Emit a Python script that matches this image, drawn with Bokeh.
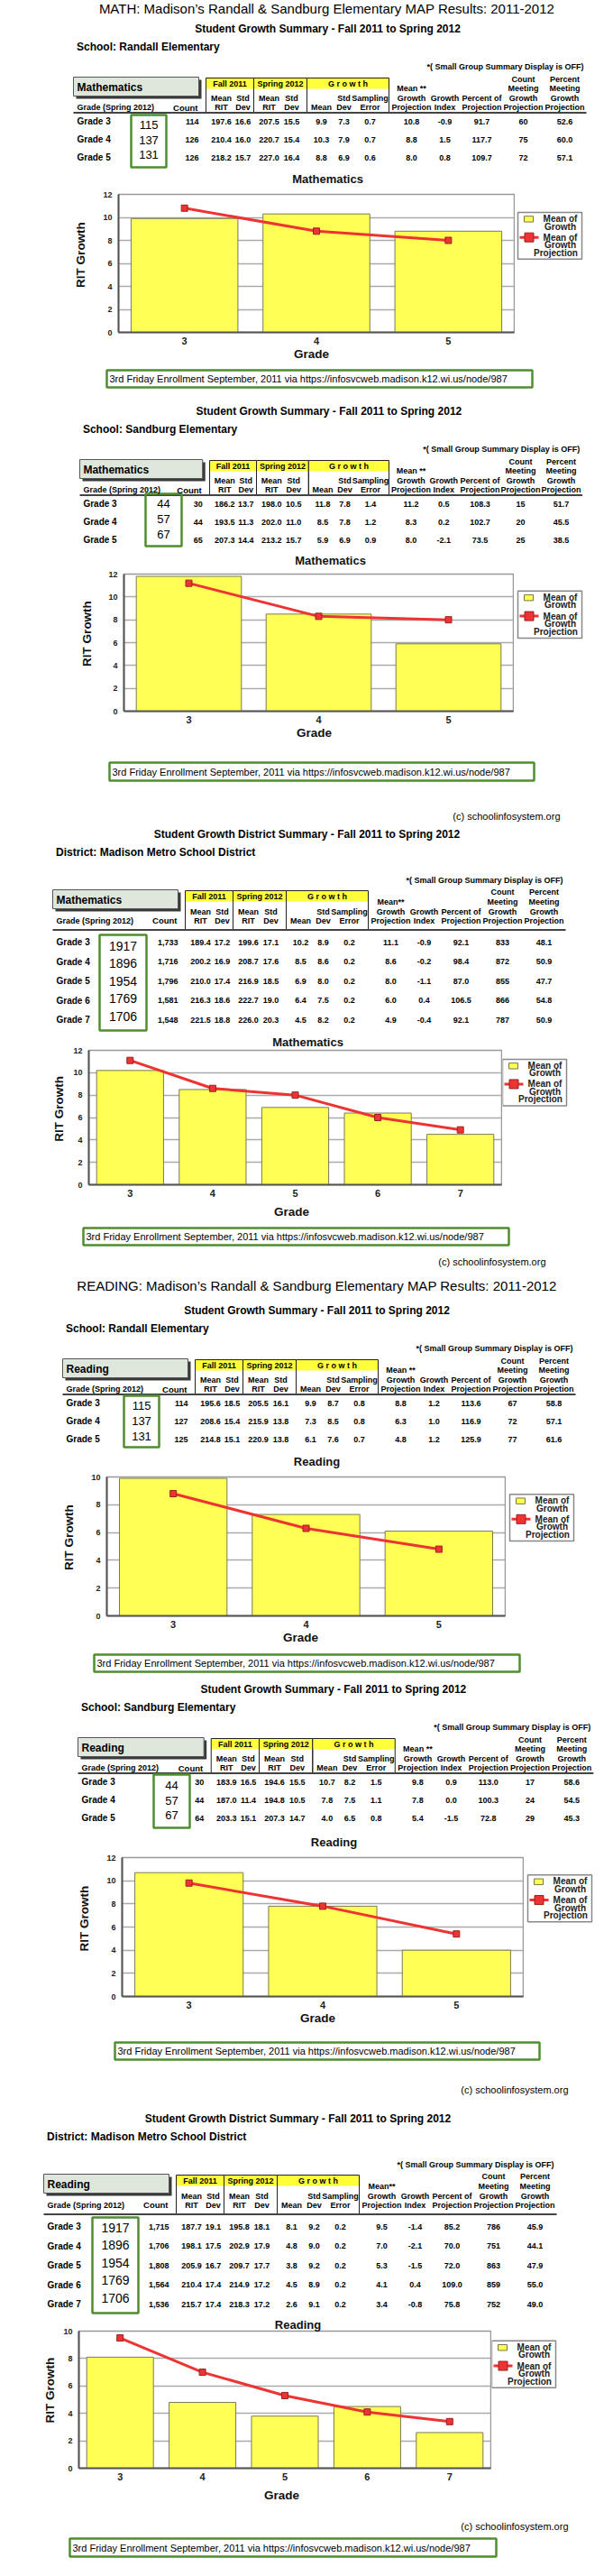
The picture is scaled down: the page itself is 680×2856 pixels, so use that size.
import math
from bokeh.plotting import figure
from bokeh.layouts import column, row
from bokeh.models import Range1d, FixedTicker, LinearAxis
from bokeh.core.properties import value
from bokeh.embed import file_html
from bokeh.resources import INLINE

FONT = "Liberation Sans"

# ---------------- data ----------------
school_grades = [3, 4, 5]
district_grades = [3, 4, 5, 6, 7]
school_grade_labels = ["Grade 3", "Grade 4", "Grade 5"]
district_grade_labels = ["Grade 3", "Grade 4", "Grade 5", "Grade 6", "Grade 7"]

randall_enrollment = [115, 137, 131]
sandburg_enrollment = [44, 57, 67]
district_enrollment = [1917, 1896, 1954, 1769, 1706]

# Count, Fall mean RIT, Fall std, Spring mean RIT, Spring std, Growth mean, Growth std,
# Sampling error, Mean growth projection, Growth index, Percent of projection,
# Count meeting projection, Percent meeting projection
math_randall = [
    ["114", "197.6", "16.6", "207.5", "15.5", "9.9", "7.3", "0.7", "10.8", "-0.9", "91.7", "60", "52.6"],
    ["126", "210.4", "16.0", "220.7", "15.4", "10.3", "7.9", "0.7", "8.8", "1.5", "117.7", "75", "60.0"],
    ["126", "218.2", "15.7", "227.0", "16.4", "8.8", "6.9", "0.6", "8.0", "0.8", "109.7", "72", "57.1"],
]
math_sandburg = [
    ["30", "186.2", "13.7", "198.0", "10.5", "11.8", "7.8", "1.4", "11.2", "0.5", "108.3", "15", "51.7"],
    ["44", "193.5", "11.3", "202.0", "11.0", "8.5", "7.8", "1.2", "8.3", "0.2", "102.7", "20", "45.5"],
    ["65", "207.3", "14.4", "213.2", "15.7", "5.9", "6.9", "0.9", "8.0", "-2.1", "73.5", "25", "38.5"],
]
math_district = [
    ["1,733", "189.4", "17.2", "199.6", "17.1", "10.2", "8.9", "0.2", "11.1", "-0.9", "92.1", "833", "48.1"],
    ["1,716", "200.2", "16.9", "208.7", "17.6", "8.5", "8.6", "0.2", "8.6", "-0.2", "98.4", "872", "50.9"],
    ["1,796", "210.0", "17.4", "216.9", "18.5", "6.9", "8.0", "0.2", "8.0", "-1.1", "87.0", "855", "47.7"],
    ["1,581", "216.3", "18.6", "222.7", "19.0", "6.4", "7.5", "0.2", "6.0", "0.4", "106.5", "866", "54.8"],
    ["1,548", "221.5", "18.8", "226.0", "20.3", "4.5", "8.2", "0.2", "4.9", "-0.4", "92.1", "787", "50.9"],
]
reading_randall = [
    ["114", "195.6", "18.5", "205.5", "16.1", "9.9", "8.7", "0.8", "8.8", "1.2", "113.6", "67", "58.8"],
    ["127", "208.6", "15.4", "215.9", "13.8", "7.3", "8.5", "0.8", "6.3", "1.0", "116.9", "72", "57.1"],
    ["125", "214.8", "15.1", "220.9", "13.8", "6.1", "7.6", "0.7", "4.8", "1.2", "125.9", "77", "61.6"],
]
reading_sandburg = [
    ["30", "183.9", "16.5", "194.6", "15.5", "10.7", "8.2", "1.5", "9.8", "0.9", "113.0", "17", "58.6"],
    ["44", "187.0", "11.4", "194.8", "10.5", "7.8", "7.5", "1.1", "7.8", "0.0", "100.3", "24", "54.5"],
    ["64", "203.3", "15.1", "207.3", "14.7", "4.0", "6.5", "0.8", "5.4", "-1.5", "72.8", "29", "45.3"],
]
reading_district = [
    ["1,715", "187.7", "19.1", "195.8", "18.1", "8.1", "9.2", "0.2", "9.5", "-1.4", "85.2", "786", "45.9"],
    ["1,706", "198.1", "17.5", "202.9", "17.9", "4.8", "9.0", "0.2", "7.0", "-2.1", "70.0", "751", "44.1"],
    ["1,808", "205.9", "16.7", "209.7", "17.7", "3.8", "9.2", "0.2", "5.3", "-1.5", "72.0", "863", "47.9"],
    ["1,564", "210.4", "17.4", "214.9", "17.2", "4.5", "8.9", "0.2", "4.1", "0.4", "109.0", "859", "55.0"],
    ["1,536", "215.7", "17.4", "218.3", "17.2", "2.6", "9.1", "0.2", "3.4", "-0.8", "75.8", "752", "49.0"],
]

GROWTH_MEAN_COL = 5
PROJECTION_COL = 8

NOTE_TEXT = "3rd Friday Enrollment September, 2011 via https://infosvcweb.madison.k12.wi.us/node/987"
COPYRIGHT = "(c) schoolinfosystem.org"

# ---------------- canvases ----------------
X0, X1 = 8, 672


class Canvas:
    def __init__(self, top, bottom):
        self.top, self.bottom = top, bottom
        f = figure(width=X1 - X0, height=bottom - top, x_range=Range1d(X0, X1),
                   y_range=Range1d(-bottom, -top), output_backend="svg",
                   toolbar_location=None, min_border=0,
                   x_axis_location=None, y_axis_location=None)
        f.grid.visible = False
        f.outline_line_color = None
        f.background_fill_color = "white"
        self.fig = f
        self.texts = {}

    def text(self, x, y, s, size, bold=False, align="center", color="black"):
        key = (size, bold, align, color)
        d = self.texts.setdefault(key, ([], [], []))
        d[0].append(x)
        d[1].append(-y)
        d[2].append(s)

    def flush(self):
        for (size, bold, align, color), (xs, ys, ts) in self.texts.items():
            self.fig.text(x=xs, y=ys, text=ts, text_font=value(FONT),
                          text_font_size=value(f"{size}px"),
                          text_font_style="bold" if bold else "normal",
                          text_align=align, text_baseline="middle", text_color=color)


canvases = [Canvas(8, 195), Canvas(410, 618), Canvas(830, 1152), Canvas(1363, 1617),
            Canvas(1834, 2039), Canvas(2255, 2574), Canvas(2787, 2848)]


def cv_at(y):
    for c in canvases:
        if c.top <= y <= c.bottom:
            return c
    raise ValueError(y)


def text(x, y, s, size, bold=False, align="center", color="black"):
    cv_at(y).text(x, y, s, size, bold, align, color)


def quad(x0, x1, y0, y1, fill=None, line=None, lw=1.0):
    cv_at(y0).fig.quad(left=[x0], right=[x1], top=[-y0], bottom=[-y1],
                       fill_color=fill, line_color=line, line_width=lw,
                       fill_alpha=1.0 if fill else 0.0)


def hline(x0, x1, y, color, lw):
    cv_at(y).fig.segment(x0=[x0], x1=[x1], y0=[-y], y1=[-y], line_color=color, line_width=lw)


# ---------------- tables ----------------
SCHOOL = dict(title=-54, label=-34, note=-12, hy=[2, 12.5, 23, 33.5], line=39, row0=49, rstep=20, enum_size=13)
DIST = dict(title=-62, label=-42, note=-11, hy=[2, 13, 24, 34], line=44, row0=58, rstep=21.6, enum_size=14)
GROUPS = [(147, 200, "Fall 2011"), (200, 259, "Spring 2012"), (259, 350, "G r o w t h")]
COLS = [139, 164, 188, 217, 242, 275, 300, 329, 375, 412, 453, 499, 545]


def draw_table(sp):
    L, s, T = sp["left"], sp["s"], sp["T"]
    g = DIST if sp["district"] else SCHOOL

    def X(r):
        return L + s * r

    hy = [T + d for d in g["hy"]]
    ly = T + g["line"]
    text(X(282), T + g["title"], sp["title"], 12, True)
    text(X(3.5), T + g["label"], sp["label"], 12, True, "left")
    text(X(566), T + g["note"], "*( Small Group Summary Display is OFF)", 9, True, "right")
    quad(X(0) + 3, X(139) + 3, T + 3, T + 24, fill="#3a3a3a")
    quad(X(0), X(139), T, T + 21, fill="#dfe6dc", line="#555555", lw=1)
    text(X(4), T + 11, sp["subject"], 12, True, "left")
    for a, b, lab in GROUPS:
        quad(X(a), X(b), T + 1, T + 13, fill="#ffff3c")
        quad(X(a), X(b), T + 1, ly, line="#222222", lw=1)
        text((X(a) + X(b)) / 2, T + 7, lab, 9, True)
    for ci, (l1, l2) in [(1, ("Mean", "RIT")), (2, ("Std", "Dev")), (3, ("Mean", "RIT")),
                         (4, ("Std", "Dev")), (6, ("Std", "Dev")), (7, ("Sampling", "Error"))]:
        text(X(COLS[ci]), hy[2], l1, 9, True)
        text(X(COLS[ci]), hy[3], l2, 9, True)
    text(X(COLS[5]), hy[3], "Mean", 9, True)
    mean_lbl = "Mean**" if sp["district"] else "Mean **"
    for ci, lines in [(8, [mean_lbl, "Growth", "Projection"]), (9, ["Growth", "Index"]),
                      (10, ["Percent of", "Projection"]),
                      (11, ["Count", "Meeting", "Growth", "Projection"]),
                      (12, ["Percent", "Meeting", "Growth", "Projection"])]:
        off = 4 - len(lines)
        for k, ln in enumerate(lines):
            text(X(COLS[ci]), hy[off + k], ln, 9, True)
    text(X(4), hy[3], "Grade (Spring 2012)", 9, True, "left")
    text(X(138), hy[3], "Count", 9.5, True, "right")
    hline(X(0), X(569), ly + 0.5, "#444444", 2)
    for i, (lab, vals) in enumerate(zip(sp["grades"], sp["rows"])):
        y = T + g["row0"] + i * g["rstep"]
        text(X(4), y, lab, 10, True, "left")
        for ci, v in enumerate(vals):
            if ci == 0:
                text(X(COLS[0]), y, v, 9, True, "right")
            else:
                text(X(COLS[ci]), y, v, 9, True)
    ex0, ex1, ey0, ey1 = sp["ebox"]
    quad(ex0, ex1, ey0, ey1, line="#4f8f2f", lw=2.5)
    e0, estep = sp["enum"]
    for i, n in enumerate(sp["enroll"]):
        text((ex0 + ex1) / 2, e0 + i * estep, str(n), g["enum_size"])


SCHOOL_TITLE = "Student Growth Summary - Fall 2011 to Spring 2012"
DIST_TITLE = "Student Growth District Summary - Fall 2011 to Spring 2012"
DIST_LABEL = "District: Madison Metro School District"

tables = [
    dict(left=89, s=1.0, T=93, district=False, title=SCHOOL_TITLE, label="School: Randall Elementary",
         subject="Mathematics", rows=math_randall, grades=school_grade_labels, enroll=randall_enrollment,
         ebox=(153, 192, 135, 193), enum=(146, 16.5)),
    dict(left=96, s=0.98, T=517, district=False, title=SCHOOL_TITLE, label="School: Sandburg Elementary",
         subject="Mathematics", rows=math_sandburg, grades=school_grade_labels, enroll=sandburg_enrollment,
         ebox=(169, 209, 555, 613), enum=(566, 17)),
    dict(left=66, s=1.0, T=994, district=True, title=DIST_TITLE, label=DIST_LABEL,
         subject="Mathematics", rows=math_district, grades=district_grade_labels, enroll=district_enrollment,
         ebox=(118, 170, 1044, 1150), enum=(1056, 19.5)),
    dict(left=77, s=1.0, T=1514, district=False, title=SCHOOL_TITLE, label="School: Randall Elementary",
         subject="Reading", rows=reading_randall, grades=school_grade_labels, enroll=randall_enrollment,
         ebox=(145, 184, 1555, 1612), enum=(1566, 17)),
    dict(left=94, s=1.005, T=1934, district=False, title=SCHOOL_TITLE, label="School: Sandburg Elementary",
         subject="Reading", rows=reading_sandburg, grades=school_grade_labels, enroll=sandburg_enrollment,
         ebox=(178, 218, 1975, 2034), enum=(1987, 16.5)),
    dict(left=56, s=1.0, T=2418, district=True, title=DIST_TITLE, label=DIST_LABEL,
         subject="Reading", rows=reading_district, grades=district_grade_labels, enroll=district_enrollment,
         ebox=(110, 161, 2466, 2572), enum=(2477, 19.5)),
]
for sp in tables:
    draw_table(sp)

# page titles, notes, copyright
text(370, 17, "MATH: Madison\u2019s Randall & Sandburg Elementary MAP Results: 2011-2012", 15)
text(361, 1433, "READING:  Madison\u2019s Randall & Sandburg Elementary MAP Results: 2011-2012", 15)
for (nx0, nx1, ny0, ny1) in [(126, 598, 418, 437), (129, 600, 853, 873), (100, 572, 1369, 1388),
                             (112, 584, 1842, 1861), (135, 606, 2272, 2291), (85, 558, 2822, 2842)]:
    quad(nx0, nx1, ny0, ny1, line="#4f8f2f", lw=2.5)
    text(nx0 + 3, (ny0 + ny1) / 2, NOTE_TEXT, 11, False, "left")
for (cx, cy) in [(629, 912), (613, 1406), (638, 2324), (638, 2808)]:
    text(cx, cy, COPYRIGHT, 11, False, "right")

for c in canvases:
    c.flush()


# ---------------- charts ----------------
def label_axis(ax, standoff, size, orientation="horizontal"):
    ax.axis_line_color = None
    ax.major_tick_out = 0
    ax.major_tick_in = 0
    ax.minor_tick_out = 0
    ax.minor_tick_in = 0
    ax.major_label_standoff = standoff
    ax.major_label_text_font = FONT
    ax.major_label_text_font_style = "bold"
    ax.major_label_text_font_size = size
    ax.major_label_text_color = "#111111"
    ax.major_label_orientation = orientation


def make_chart(seg, fx, fy, ymax, grades, rows, title, title_pos, rit_x, grade_pos, lg, district):
    top, bot = seg
    fx0, fx1 = fx
    fy0, fy1 = fy
    L = fx1 + 1
    bars = [float(r[GROWTH_MEAN_COL]) for r in rows]
    proj = [float(r[PROJECTION_COL]) for r in rows]
    p = figure(width=L - X0, height=bot - top, x_range=Range1d(grades[0] - 0.5, grades[-1] + 0.5),
               y_range=Range1d(0, ymax), output_backend="svg", toolbar_location=None,
               min_border_left=fx0 - X0, min_border_right=L - fx1,
               min_border_top=fy0 - top, min_border_bottom=bot - fy1)
    p.title.visible = False
    p.vbar(x=grades, top=bars, width=0.81, fill_color="#ffff55", line_color="#7a7a55", line_width=1)
    p.line(x=grades, y=proj, line_color="#ee3333", line_width=3)
    p.scatter(x=grades, y=proj, marker="square", size=7, fill_color="#ee3333", line_color="#992222")
    p.yaxis.ticker = FixedTicker(ticks=list(range(0, ymax + 1, 2)))
    p.xaxis.ticker = FixedTicker(ticks=list(grades))
    for ax in (p.xaxis, p.yaxis):
        ax.major_tick_out = 0
        ax.major_tick_in = 0
        ax.minor_tick_out = 0
        ax.minor_tick_in = 0
        ax.axis_line_color = "#555555"
        ax.axis_line_width = 2
        ax.major_label_text_font = FONT
        ax.major_label_text_font_style = "bold"
        ax.major_label_text_color = "#222222"
    p.yaxis.major_label_text_font_size = "9px"
    p.yaxis.major_label_standoff = 7
    p.xaxis.major_label_text_font_size = "11px"
    p.xaxis.major_label_standoff = 5
    p.xgrid.visible = False
    p.ygrid.grid_line_color = "#aaaaaa"
    p.ygrid.grid_line_width = 1.5
    p.outline_line_color = "#999999"
    p.outline_line_width = 1.5

    # pixel-positioned ranges for the chart's own labels
    p.extra_x_ranges = {"px": Range1d(fx0, fx1)}
    p.extra_y_ranges = {"py": Range1d(-fy1, -fy0)}

    tx = int(round(title_pos[0]))
    t_ax = LinearAxis(x_range_name="px", ticker=FixedTicker(ticks=[tx]), major_label_overrides={tx: title})
    label_axis(t_ax, max(0, int(round(fy0 - title_pos[1] - 7.5))), "13px")
    p.add_layout(t_ax, "above")

    gx = int(round(grade_pos[0]))
    g_ax = LinearAxis(x_range_name="px", ticker=FixedTicker(ticks=[gx]), major_label_overrides={gx: "Grade"})
    label_axis(g_ax, 6 if district else 0, "13.5px")
    p.add_layout(g_ax, "below")

    ry = -int(round((fy0 + fy1) / 2 - 10))
    r_ax = LinearAxis(y_range_name="py", ticker=FixedTicker(ticks=[ry]), major_label_overrides={ry: "RIT Growth"})
    label_axis(r_ax, max(0, (fx0 - rit_x) - 26), "13.5px", "vertical")
    p.add_layout(r_ax, "left")

    # legend panel
    lx, B = lg
    q = figure(width=X1 - L, height=bot - top, x_range=Range1d(L, X1), y_range=Range1d(-bot, -top),
               output_backend="svg", toolbar_location=None, min_border=0,
               x_axis_location=None, y_axis_location=None)
    q.grid.visible = False
    q.outline_line_color = None
    q.quad(left=[lx], right=[lx + 71], top=[-B], bottom=[-(B + 73)], fill_color="white",
           line_color="#888888", line_width=1.5)
    q.quad(left=[lx + 7], right=[lx + 17], top=[-(B + 6)], bottom=[-(B + 15)], fill_color="#ffff55",
           line_color="#777744", line_width=1)
    q.segment(x0=[lx + 2], x1=[lx + 23], y0=[-(B + 39)], y1=[-(B + 39)], line_color="#ee3333", line_width=3)
    q.scatter(x=[lx + 12.5], y=[-(B + 39)], marker="square", size=10, fill_color="#ee3333",
              line_color="#992222")
    q.text(x=[lx + 47, lx + 47, lx + 47, lx + 47, lx + 42],
           y=[-(B + 10), -(B + 22), -(B + 39), -(B + 51), -(B + 63)],
           text=["Mean of", "Growth", "Mean of", "Growth", "Projection"],
           text_font=value(FONT), text_font_size=value("10px"), text_font_style="bold",
           text_align="center", text_baseline="middle", text_color="#222222")
    return row(p, q)


charts = [
    make_chart((195, 410), (139, 578), (223, 376), 12, school_grades, math_randall, "Mathematics",
               (371, 205), 98, (353, 400), (582, 223), False),
    make_chart((618, 830), (145, 577), (644, 796), 12, school_grades, math_sandburg, "Mathematics",
               (374, 628), 105, (356, 819), (582, 644), False),
    make_chart((1152, 1363), (106, 564), (1167, 1321), 12, district_grades, math_district, "Mathematics",
               (349, 1157), 75, (331, 1353), (565, 1166), True),
    make_chart((1617, 1834), (126, 568), (1645, 1799), 10, school_grades, reading_randall, "Reading",
               (359, 1627), 85, (341, 1823), (573, 1644), False),
    make_chart((2039, 2255), (143, 588), (2066, 2221), 12, school_grades, reading_sandburg, "Reading",
               (378, 2048), 103, (360, 2244), (593, 2066), False),
    make_chart((2574, 2787), (95, 552), (2589, 2744), 10, district_grades, reading_district, "Reading",
               (338, 2581), 65, (320, 2776), (553, 2589), True),
]

children = []
for i, c in enumerate(canvases):
    children.append(c.fig)
    if i < len(charts):
        children.append(charts[i])

layout = column(*children, spacing=0)
open("out.html", "w").write(file_html(layout, INLINE))
